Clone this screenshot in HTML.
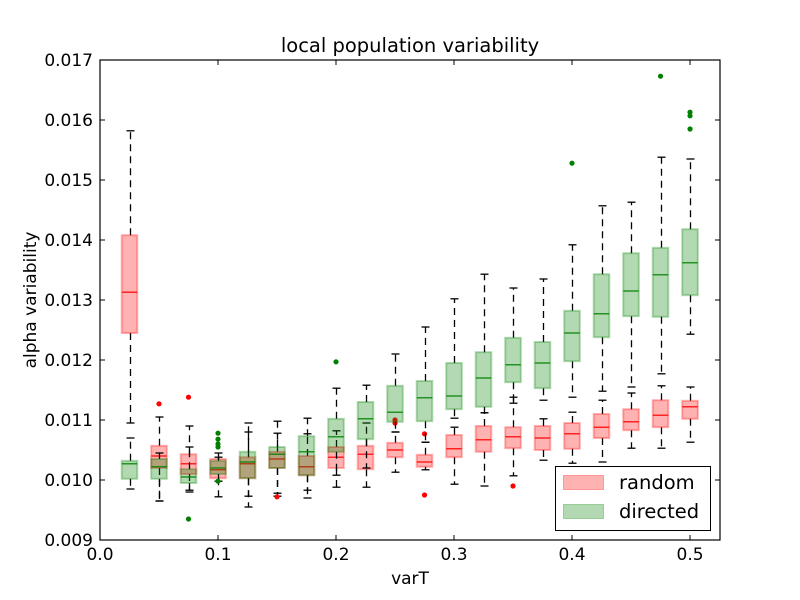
<!DOCTYPE html>
<html><head><meta charset="utf-8"><style>
body{margin:0;background:#fff}
svg{display:block;font-family:"DejaVu Sans","Liberation Sans",sans-serif}
</style></head><body>
<svg id="chart" width="800" height="600" viewBox="0 0 800 600" xmlns="http://www.w3.org/2000/svg">
<rect width="800" height="600" fill="#fff"/>
<text x="410" y="52" font-size="19.5" text-anchor="middle">local population variability</text>
<text x="410" y="584" font-size="17" text-anchor="middle">varT</text>
<text x="0" y="0" font-size="17" text-anchor="middle" transform="translate(36,300) rotate(-90)">alpha variability</text>
<g id="marks"></g>
<g id="axes"></g>
</svg>
<script>
const positions=[0.025,0.05,0.075,0.1,0.125,0.15,0.175,0.2,0.225,0.25,0.275,0.3,0.325,0.35,0.375,0.4,0.425,0.45,0.475,0.5];
const randLo=[0.01095,0.00965,0.00983,0.00972,0.00973,0.00973,0.00983,0.00988,0.00988,0.01013,0.01017,0.00993,0.00990,0.01007,0.01033,0.01028,0.01030,0.01053,0.01053,0.01063];
const randQ1=[0.01245,0.01020,0.01010,0.01003,0.01003,0.01020,0.01008,0.01020,0.01018,0.01038,0.01022,0.01038,0.01047,0.01053,0.01050,0.01052,0.01070,0.01083,0.01088,0.01102];
const randMed=[0.01313,0.01040,0.01027,0.01017,0.01027,0.01035,0.01022,0.01038,0.01043,0.01050,0.01030,0.01052,0.01067,0.01072,0.01070,0.01077,0.01088,0.01097,0.01108,0.01122];
const randQ3=[0.01408,0.01057,0.01043,0.01035,0.01038,0.01047,0.01040,0.01055,0.01057,0.01062,0.01042,0.01075,0.01090,0.01088,0.01090,0.01095,0.01110,0.01118,0.01133,0.01132];
const randHi=[0.01582,0.01105,0.01090,0.01045,0.01095,0.01098,0.01077,0.01082,0.01095,0.01080,0.01063,0.01088,0.01112,0.01138,0.01102,0.01113,0.01133,0.01145,0.01157,0.01155];
const randOutX=[0.05,0.075,0.15,0.25,0.25,0.275,0.275,0.35];
const randOutY=[0.01127,0.01138,0.00972,0.01100,0.01095,0.01077,0.00975,0.00990];
const dirLo=[0.00985,0.00965,0.00980,0.00998,0.00955,0.00978,0.00970,0.01008,0.01020,0.01080,0.01063,0.01103,0.01112,0.01128,0.01133,0.01138,0.01148,0.01155,0.01177,0.01243];
const dirQ1=[0.01002,0.01002,0.00995,0.01010,0.01003,0.01020,0.01008,0.01047,0.01068,0.01097,0.01098,0.01118,0.01122,0.01163,0.01153,0.01198,0.01238,0.01273,0.01272,0.01308];
const dirMed=[0.01027,0.01022,0.01005,0.01020,0.01030,0.01043,0.01047,0.01072,0.01102,0.01113,0.01137,0.01140,0.01170,0.01192,0.01195,0.01245,0.01277,0.01315,0.01342,0.01362];
const dirQ3=[0.01032,0.01035,0.01018,0.01032,0.01047,0.01055,0.01073,0.01102,0.01130,0.01157,0.01165,0.01195,0.01213,0.01237,0.01230,0.01282,0.01343,0.01378,0.01387,0.01418];
const dirHi=[0.01070,0.01045,0.01055,0.01038,0.01080,0.01078,0.01103,0.01153,0.01158,0.01210,0.01255,0.01302,0.01343,0.01320,0.01335,0.01392,0.01457,0.01463,0.01538,0.01535];
const dirOutX=[0.075,0.1,0.1,0.1,0.1,0.1,0.2,0.4,0.475,0.5,0.5,0.5];
const dirOutY=[0.00935,0.01078,0.01068,0.01060,0.01055,0.00998,0.01197,0.01528,0.01673,0.01613,0.01607,0.01585];
const xTicks=[0,0.1,0.2,0.3,0.4,0.5];
const xTickLabels=["0.0","0.1","0.2","0.3","0.4","0.5"];
const yTicks=[0.009,0.010,0.011,0.012,0.013,0.014,0.015,0.016,0.017];
const yTickLabels=["0.009","0.010","0.011","0.012","0.013","0.014","0.015","0.016","0.017"];

const L=100,R=720,T=60,B=540,X0=0,X1=0.5254,Y0=0.009,Y1=0.017;
const xs=v=>L+(v-X0)/(X1-X0)*(R-L);
const ys=v=>B-(v-Y0)/(Y1-Y0)*(B-T);
const NS="http://www.w3.org/2000/svg";
const marks=document.getElementById('marks'),axes=document.getElementById('axes');
function mk(tag,attrs,parent){const e=document.createElementNS(NS,tag);for(const k in attrs)e.setAttribute(k,attrs[k]);parent.appendChild(e);return e;}
const BW=0.0132;
function series(lo,q1,med,q3,hi,ox,oy,fill,stroke,name){
  const g=mk('g',{},marks);
  
  
  for(let i=0;i<positions.length;i++){
    const cx=Math.round(xs(positions[i]))+0.5,x0=xs(positions[i]-BW/2),x1=xs(positions[i]+BW/2);
    const cw=4;
    const wl=mk('line',{x1:cx,x2:cx,y1:ys(q3[i]),y2:ys(hi[i]),stroke:'#000','stroke-width':1.3,'stroke-dasharray':'7,5'},g);
    
    
    const wl2=mk('line',{x1:cx,x2:cx,y1:ys(q1[i]),y2:ys(lo[i]),stroke:'#000','stroke-width':1.3,'stroke-dasharray':'7,5'},g);
    
    
    const c1=mk('line',{x1:cx-cw,x2:cx+cw,y1:ys(hi[i]),y2:ys(hi[i]),stroke:'#000','stroke-width':1.3},g);
    
    
    const c2=mk('line',{x1:cx-cw,x2:cx+cw,y1:ys(lo[i]),y2:ys(lo[i]),stroke:'#000','stroke-width':1.3},g);
    
    
    const b=mk('rect',{x:x0,y:ys(q3[i]),width:x1-x0,height:ys(q1[i])-ys(q3[i]),fill:fill,'fill-opacity':0.3,stroke:fill,'stroke-opacity':0.3,'stroke-width':2},g);
    
    
    const m=mk('line',{x1:x0,x2:x1,y1:ys(med[i]),y2:ys(med[i]),stroke:stroke,'stroke-width':1.2},g);
    
    
  }
  for(let j=0;j<ox.length;j++){
    const c=mk('circle',{cx:xs(ox[j]),cy:ys(oy[j]),r:2.6,fill:stroke},g);
    
    
  }
}
series(randLo,randQ1,randMed,randQ3,randHi,randOutX,randOutY,'#ff0000','#ff0000','random');
series(dirLo,dirQ1,dirMed,dirQ3,dirHi,dirOutX,dirOutY,'#008000','#008000','directed');

const frame=mk('rect',{x:L,y:T,width:R-L,height:B-T,fill:'none',stroke:'#000','stroke-width':1.2},axes);


for(let i=0;i<xTicks.length;i++){
  const x=xs(xTicks[i]);
  const t=mk('line',{x1:x,x2:x,y1:B,y2:B-5,stroke:'#000'},axes);
  
  
  const t2=mk('line',{x1:x,x2:x,y1:T,y2:T+5,stroke:'#000'},axes);
  
  
  const lb=mk('text',{x:x,y:B+20,'font-size':17,'text-anchor':'middle'},axes);
  lb.textContent=xTickLabels[i];
  
  
}
for(let i=0;i<yTicks.length;i++){
  const y=ys(yTicks[i]);
  const t=mk('line',{x1:L,x2:L+5,y1:y,y2:y,stroke:'#000'},axes);
  
  
  const t2=mk('line',{x1:R,x2:R-5,y1:y,y2:y,stroke:'#000'},axes);
  
  
  const lb=mk('text',{x:L-7,y:y+6,'font-size':17,'text-anchor':'end'},axes);
  lb.textContent=yTickLabels[i];
  
  
}
const lg=mk('g',{},axes);


mk('rect',{x:555.5,y:466.5,width:155,height:64,fill:'#fff',stroke:'#000'},lg);
const p1=mk('rect',{x:563.5,y:475.5,width:40,height:14,fill:'#ff0000','fill-opacity':0.3,stroke:'#ff0000','stroke-opacity':0.3},lg);


const p2=mk('rect',{x:563.5,y:504.5,width:40,height:14,fill:'#008000','fill-opacity':0.3,stroke:'#008000','stroke-opacity':0.3},lg);


const l1=mk('text',{x:619,y:489,'font-size':19.5},lg);l1.textContent='random';


const l2=mk('text',{x:619,y:518,'font-size':19.5},lg);l2.textContent='directed';


</script>
</body></html>
